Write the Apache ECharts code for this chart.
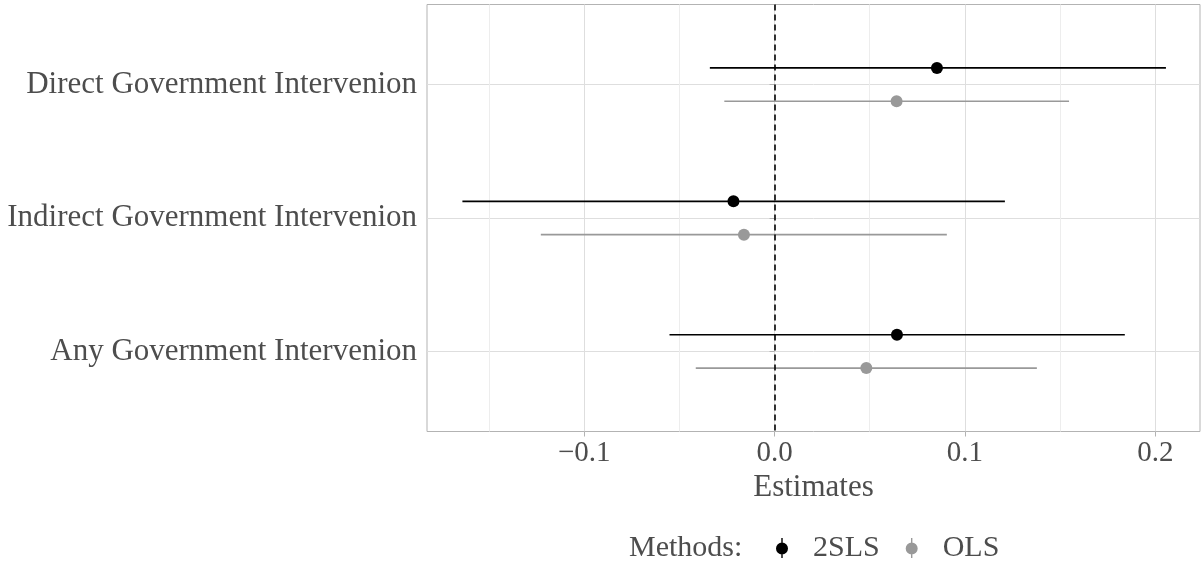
<!DOCTYPE html>
<html lang="en">
<head>
<meta charset="UTF-8">
<title>Estimates by method</title>
<style>
  html, body { margin: 0; padding: 0; background: #fff; }
  #chart { width: 1202px; height: 561px; }
</style>
</head>
<body>
<div id="chart"></div>
<script src="https://cdn.jsdelivr.net/npm/echarts@6/dist/echarts.min.js"></script>
<script>
// categories, top to bottom
var categories = ['Direct Government Intervenion', 'Indirect Government Intervenion', 'Any Government Intervenion'];
var methods = ['2SLS', 'OLS'];

// point estimates and interval ends
var est2sls  = [0.0853, -0.0216, 0.0643];
var low2sls  = [-0.0340, -0.1640, -0.0552];
var high2sls = [0.2056, 0.1210, 0.1840];
var estOls   = [0.0641, -0.0161, 0.0482];
var lowOls   = [-0.0264, -0.1228, -0.0414];
var highOls  = [0.1547, 0.0905, 0.1378];

var xTicks = [-0.1, 0.0, 0.1, 0.2];
var xMinorTicks = [-0.15, -0.05, 0.05, 0.15];
var zeroLine = 0;

var FONT = "'Liberation Serif', 'Times New Roman', serif";
var TEXT = '#4D4D4D';
var colors = { '2SLS': '#000000', 'OLS': '#999999' };
var dodge = { '2SLS': -0.125, 'OLS': 0.125 };

function pointData(est, m) {
    return est.map(function (v, i) { return [v, i + 1 + dodge[m]]; });
}
function rangeData(lo, hi, m) {
    return lo.map(function (v, i) { return [v, hi[i], i + 1 + dodge[m]]; });
}

function renderRange(params, api) {
    var a = api.coord([api.value(0), api.value(2)]);
    var b = api.coord([api.value(1), api.value(2)]);
    return {
        type: 'line',
        shape: { x1: a[0], y1: a[1], x2: b[0], y2: b[1] },
        style: { stroke: api.visual('color'), lineWidth: 1.7 }
    };
}

// legend key: vertical line with a dot, like a point range
var keyIcon = 'path://M5.3,0 L6.7,0 L6.7,20 L5.3,20 Z M0,10.5 A6,6 0 1,1 12,10.5 A6,6 0 1,1 0,10.5 Z';

var xMin = -0.1826, xMax = 0.2235;

var chart = echarts.init(document.getElementById('chart'));
chart.setOption({
    animation: false,
    backgroundColor: '#fff',
    textStyle: { fontFamily: FONT },
    title: {
        text: 'Methods:',
        left: 629, top: 533, padding: 0,
        textStyle: { fontFamily: FONT, fontSize: 30, fontWeight: 'normal', color: TEXT }
    },
    legend: {
        left: 776, top: 533, padding: 0,
        itemWidth: 12, itemHeight: 20, itemGap: 26,
        data: [{ name: '2SLS', icon: keyIcon }, { name: 'OLS', icon: keyIcon }],
        textStyle: { fontFamily: FONT, fontSize: 30, color: TEXT, padding: [0, 0, 0, 20] }
    },
    grid: {
        left: 427, right: 2, top: 4.5, bottom: 129.5,
        show: true, borderColor: '#B3B3B3', borderWidth: 1
    },
    xAxis: [{
        type: 'value', min: xMin, max: xMax,
        name: 'Estimates', nameLocation: 'middle', nameGap: 27,
        nameTextStyle: { fontFamily: FONT, fontSize: 31, color: TEXT, verticalAlign: 'top' },
        axisLine: { show: false },
        axisTick: { show: true, length: 5, customValues: xTicks, lineStyle: { color: '#B3B3B3' } },
        axisLabel: {
            customValues: xTicks, margin: 7,
            fontFamily: FONT, fontSize: 29, color: TEXT,
            formatter: function (v) { return v.toFixed(1).replace('-', '\u2212'); }
        },
        splitLine: { show: true, lineStyle: { color: '#DEDEDE', width: 1 } }
    }, {
        type: 'value', min: xMin, max: xMax, gridIndex: 0, position: 'bottom',
        axisLine: { show: false },
        axisTick: { show: false, customValues: xMinorTicks },
        axisLabel: { show: false },
        splitLine: { show: true, lineStyle: { color: '#EDEDED', width: 1 } }
    }],
    yAxis: {
        type: 'value', min: 0.4, max: 3.6, inverse: true,
        axisLine: { show: false },
        axisTick: { show: true, length: 5, customValues: [1, 2, 3], lineStyle: { color: '#B3B3B3' } },
        axisLabel: {
            customValues: [1, 2, 3], margin: 10,
            fontFamily: FONT, fontSize: 31, color: TEXT,
            formatter: function (v) { return categories[Math.round(v) - 1]; }
        },
        splitLine: { show: true, lineStyle: { color: '#DEDEDE', width: 1 } }
    },
    series: [{
        name: '2SLS', type: 'scatter', z: 5,
        symbolSize: 12, itemStyle: { color: colors['2SLS'], opacity: 1 },
        data: pointData(est2sls, '2SLS'),
        markLine: {
            silent: true, symbol: 'none', label: { show: false },
            lineStyle: { color: '#000', type: [6, 4], width: 1.6 },
            data: [{ xAxis: zeroLine }]
        }
    }, {
        name: 'OLS', type: 'scatter', z: 5,
        symbolSize: 12, itemStyle: { color: colors['OLS'], opacity: 1 },
        data: pointData(estOls, 'OLS')
    }, {
        name: '2SLS', type: 'custom', z: 3,
        itemStyle: { color: colors['2SLS'] },
        encode: { x: [0, 1], y: 2 },
        renderItem: renderRange,
        data: rangeData(low2sls, high2sls, '2SLS')
    }, {
        name: 'OLS', type: 'custom', z: 3,
        itemStyle: { color: colors['OLS'] },
        encode: { x: [0, 1], y: 2 },
        renderItem: renderRange,
        data: rangeData(lowOls, highOls, 'OLS')
    }]
});
</script>
</body>
</html>
